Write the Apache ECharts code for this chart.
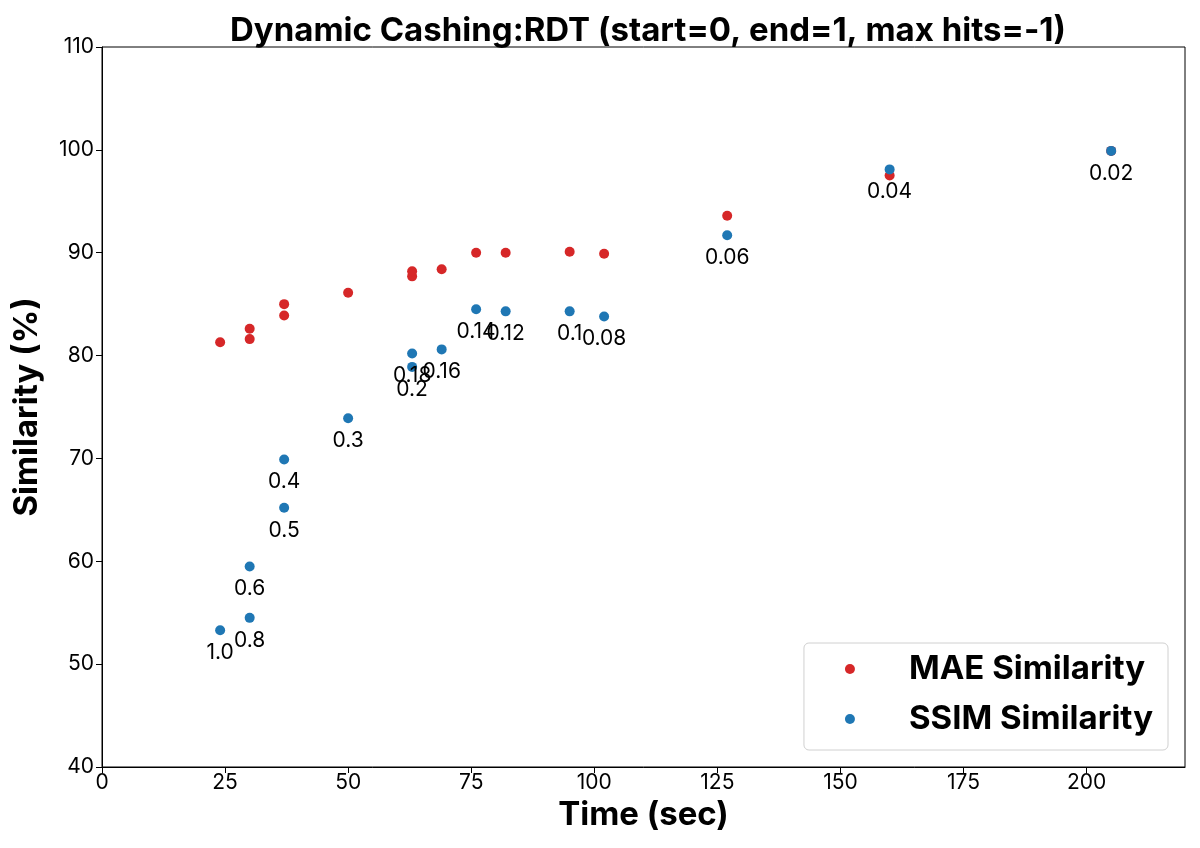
<!DOCTYPE html>
<html>
<head>
<meta charset="utf-8">
<script src="https://cdn.jsdelivr.net/npm/echarts@6/dist/echarts.min.js"></script>
<style>
  html, body { margin: 0; padding: 0; background: #fff; }
  #chart { width: 1200px; height: 848px; }
</style>
</head>
<body>
<div id="chart"></div>
<script>
// threshold labels shown under the SSIM points
var thresholds = ['1.0', '0.8', '0.6', '0.5', '0.4', '0.3', '0.2', '0.18', '0.16', '0.14', '0.12', '0.1', '0.08', '0.06', '0.04', '0.02'];
var timeSec    = [24, 30, 30, 37, 37, 50, 63, 63, 69, 76, 82, 95, 102, 127, 160, 205];
var maeSim     = [81.3, 81.6, 82.6, 83.9, 85.0, 86.1, 87.7, 88.2, 88.4, 90.0, 90.0, 90.1, 89.9, 93.6, 97.5, 99.9];
var ssimSim    = [53.3, 54.5, 59.5, 65.2, 69.9, 73.9, 78.9, 80.2, 80.6, 84.5, 84.3, 84.3, 83.8, 91.7, 98.1, 99.9];

var FONT = 'Inter, "Noto Sans", sans-serif';

function initScatter() {
  var dom = document.getElementById('chart');
  var myChart = echarts.init(dom);

  var maeData = [], ssimData = [];
  for (var i = 0; i < timeSec.length; i++) {
    maeData.push([timeSec[i], maeSim[i]]);
    ssimData.push([timeSec[i], ssimSim[i], thresholds[i]]);
  }

  var option = {
    backgroundColor: '#fff',
    animation: false,
    textStyle: { fontFamily: FONT },
    title: {
      text: 'Dynamic Cashing:RDT (start=0, end=1, max hits=-1)',
      left: 643,
      textAlign: 'center',
      top: 10,
      textStyle: { fontFamily: FONT, fontSize: 33, fontWeight: 'bold', color: '#000' }
    },
    grid: {
      left: 102, right: 15, top: 47, bottom: 81,
      show: true, borderColor: '#000', borderWidth: 1
    },
    legend: {
      orient: 'vertical',
      right: 32,
      bottom: 98,
      icon: 'circle',
      itemWidth: 10,
      itemHeight: 10,
      itemGap: 12,
      padding: [7, 15, 12, 41],
      borderColor: '#d0d0d0',
      borderWidth: 1,
      borderRadius: 5,
      backgroundColor: '#fff',
      textStyle: {
        fontFamily: FONT, fontSize: 33, fontWeight: 'bold', color: '#000',
        lineHeight: 38, padding: [0, 0, 0, 49]
      },
      data: ['MAE Similarity', 'SSIM Similarity']
    },
    xAxis: {
      type: 'value',
      min: 0, max: 220, interval: 25,
      name: 'Time (sec)',
      nameLocation: 'middle',
      nameGap: 32,
      nameTextStyle: { fontFamily: FONT, fontSize: 33, fontWeight: 'bold', color: '#000' },
      axisLine: { lineStyle: { color: '#000' } },
      axisTick: { show: true, inside: false, length: 6, lineStyle: { color: '#000' } },
      axisLabel: { fontSize: 21, color: '#000', margin: 5, showMaxLabel: false },
      splitLine: { show: false }
    },
    yAxis: {
      type: 'value',
      min: 40, max: 110, interval: 10,
      name: 'Similarity (%)',
      nameLocation: 'middle',
      nameGap: 58,
      nameTextStyle: { fontFamily: FONT, fontSize: 33, fontWeight: 'bold', color: '#000' },
      axisLine: { show: true, lineStyle: { color: '#000' } },
      axisTick: { show: true, inside: false, length: 6, lineStyle: { color: '#000' } },
      axisLabel: { fontSize: 21, color: '#000', margin: 8 },
      splitLine: { show: false }
    },
    series: [
      {
        name: 'MAE Similarity',
        type: 'scatter',
        symbolSize: 10,
        itemStyle: { color: '#d62728', opacity: 1 },
        data: maeData
      },
      {
        name: 'SSIM Similarity',
        type: 'scatter',
        symbolSize: 10,
        itemStyle: { color: '#1f77b4', opacity: 1 },
        label: {
          show: true,
          position: 'bottom',
          distance: 7,
          fontFamily: FONT,
          fontSize: 21,
          color: '#000',
          formatter: function (p) { return p.data[2]; }
        },
        labelLayout: { hideOverlap: false },
        data: ssimData
      }
    ]
  };

  myChart.setOption(option, true);
}
initScatter();
</script>
</body>
</html>
